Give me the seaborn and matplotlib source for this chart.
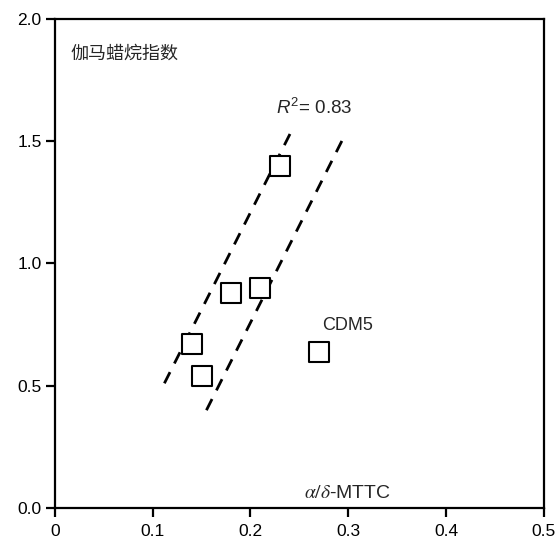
import matplotlib
matplotlib.use("Agg")
import matplotlib.pyplot as plt
import seaborn as sns
import pandas as pd

# data
x_vals = [0.23, 0.18, 0.21, 0.14, 0.15, 0.27]
y_vals = [1.40, 0.88, 0.90, 0.67, 0.54, 0.64]
upper_x = [0.112, 0.241]
upper_y = [0.51, 1.534]
lower_x = [0.155, 0.294]
lower_y = [0.40, 1.505]
x_ticks = [0, 0.1, 0.2, 0.3, 0.4, 0.5]
x_ticklabels = ["0", "0.1", "0.2", "0.3", "0.4", "0.5"]
y_ticks = [0.0, 0.5, 1.0, 1.5, 2.0]
y_ticklabels = ["0.0", "0.5", "1.0", "1.5", "2.0"]

sns.set_theme(style="ticks")
plt.rcParams['font.family'] = ['Liberation Sans', 'Noto Sans CJK SC', 'DejaVu Sans']
plt.rcParams['mathtext.fontset'] = 'stix'
plt.rcParams['mathtext.rm'] = 'Liberation Sans'
plt.rcParams['mathtext.it'] = 'Liberation Sans:italic'
plt.rcParams['mathtext.bf'] = 'Liberation Sans:bold'

fig = plt.figure(figsize=(5.6, 5.42), dpi=100)
ax = fig.add_axes([0.098, 0.0627, 0.873, 0.9023])

df = pd.DataFrame({"x": x_vals, "y": y_vals})
sns.lineplot(x=upper_x, y=upper_y, ax=ax, color="black", linestyle=(0, (4.5, 3.5)), linewidth=2.0)
sns.lineplot(x=lower_x, y=lower_y, ax=ax, color="black", linestyle=(0, (4.5, 3.5)), linewidth=2.0)
sns.scatterplot(data=df, x="x", y="y", ax=ax, marker="s", s=200, facecolor="white",
                edgecolor="black", linewidth=1.5, zorder=3)

ax.set_xlim(0, 0.5)
ax.set_ylim(0, 2.0)
ax.set_xticks(x_ticks)
ax.set_xticklabels(x_ticklabels)
ax.set_yticks(y_ticks)
ax.set_yticklabels(y_ticklabels)
ax.set_xlabel("")
ax.set_ylabel("")
for s in ax.spines.values():
    s.set_linewidth(1.6)
    s.set_color("black")
ax.tick_params(axis="both", direction="out", length=6.5, width=1.6, labelsize=12.5,
               colors="black")
ax.tick_params(axis="x", pad=5)
ax.tick_params(axis="y", pad=3)

ax.text(0.016, 1.86, "伽马蜡烷指数", fontsize=13, family=['Noto Sans CJK SC', 'DejaVu Sans'], va="center")
ax.text(0.226, 1.638, r"$R^{2}$= 0.83", fontsize=13.5, va="center", math_fontfamily="custom")
ax.text(0.273, 0.745, "CDM5", fontsize=13, va="center")
ax.text(0.255, 0.06, r"$\alpha/\delta$-MTTC", fontsize=14, va="center", math_fontfamily="stix")

fig.savefig("out.png", dpi=100)
